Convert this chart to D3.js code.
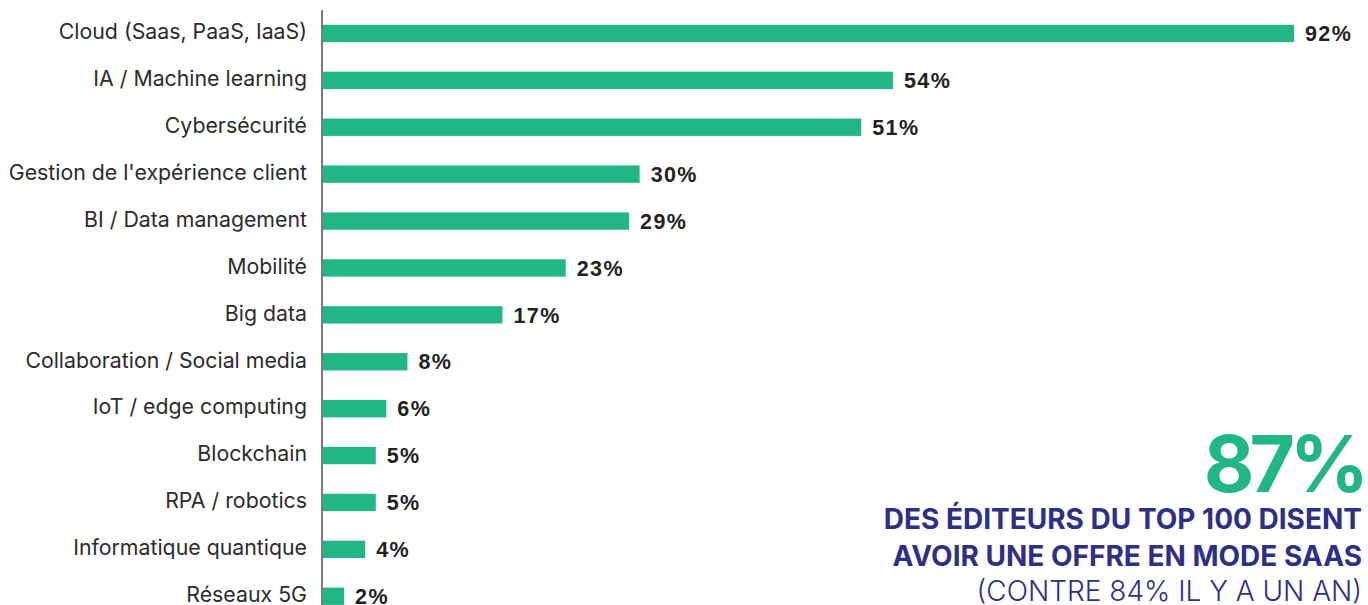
<!doctype html>
<html>
  <head>
    <script src="https://cdn.jsdelivr.net/npm/d3@7"></script>
    <style>
      body { margin: 0; background: #fff; }
    </style>
  </head>
  <body>
    <script>
    // chart data
    var categories = ["Cloud (Saas, PaaS, IaaS)", "IA / Machine learning", "Cybersécurité",
      "Gestion de l'expérience client", "BI / Data management", "Mobilité", "Big data",
      "Collaboration / Social media", "IoT / edge computing", "Blockchain", "RPA / robotics",
      "Informatique quantique", "Réseaux 5G"];
    var values = [92, 54, 51, 30, 29, 23, 17, 8, 6, 5, 5, 4, 2];
    var calloutLines = ["DES ÉDITEURS DU TOP 100 DISENT", "AVOIR UNE OFFRE EN MODE SAAS"];
    var calloutNote = "(CONTRE 84% IL Y A UN AN)";
    var calloutValue = "87%";

    var width = 1368;
    var height = 605;
    var green = "#20b784";
    var navy = "#2e2f86";

    var svg = d3.select("body")
              .append("svg")
              .attr("width", width)
              .attr("height", height);

    var x0 = 323;

    var xScale = d3.scaleLinear()
                  .domain([0, 92])
                  .range([x0, 1294]);

    var yScale = d3.scaleBand()
                  .domain(categories)
                  .range([10, 10 + 46.9 * 13])
                  .paddingInner(0.63)
                  .paddingOuter(0.315);

    // axis line
    svg.append("line")
      .attr("x1", x0 - 1).attr("x2", x0 - 1)
      .attr("y1", 10).attr("y2", height)
      .attr("stroke", "#333")
      .attr("stroke-width", 1.3);

    // bars
    svg.selectAll("rect.bar")
      .data(values)
      .enter()
        .append("rect")
        .attr("class", "bar")
        .attr("x", x0)
        .attr("y", function(d, i) { return yScale(categories[i]); })
        .attr("width", function(d) { return xScale(d) - x0; })
        .attr("height", yScale.bandwidth())
        .attr("fill", green);

    // category labels
    svg.selectAll("text.cat")
      .data(categories)
      .enter()
        .append("text")
        .attr("class", "cat")
        .attr("x", 307)
        .attr("y", function(d) { return yScale(d) + yScale.bandwidth() / 2; })
        .attr("text-anchor", "end")
        .attr("dominant-baseline", "middle")
        .attr("font-family", "Inter, sans-serif")
        .style("font-size", "21.3px")
        .attr("fill", "#2b2b2b")
        .text(function(d) { return d; });

    // value labels
    svg.selectAll("text.val")
      .data(values)
      .enter()
        .append("text")
        .attr("class", "val")
        .attr("x", function(d) { return xScale(d) + 11; })
        .attr("y", function(d, i) { return yScale(categories[i]) + yScale.bandwidth() / 2 + 2; })
        .attr("dominant-baseline", "middle")
        .attr("font-family", "'Liberation Sans', Arial, sans-serif")
        .attr("font-weight", "bold")
        .style("font-size", "21.5px")
        .style("letter-spacing", "1.4px")
        .attr("fill", "#222")
        .text(function(d) { return d + "%"; });

    // callout
    svg.append("text")
      .attr("x", 1364)
      .attr("y", 492)
      .attr("text-anchor", "end")
      .attr("font-family", "Inter, sans-serif")
      .attr("font-weight", "bold")
      .style("font-size", "78px")
      .style("letter-spacing", "-5px")
      .attr("fill", green)
      .text(calloutValue);

    calloutLines.forEach(function(t, i) {
      svg.append("text")
        .attr("x", 1362)
        .attr("y", 529 + i * 36.5)
        .attr("text-anchor", "end")
        .attr("font-family", "Inter, sans-serif")
        .attr("font-weight", "bold")
        .style("font-size", "28px")
        .attr("fill", navy)
        .text(t);
    });

    svg.append("text")
      .attr("x", 1362)
      .attr("y", 601)
      .attr("text-anchor", "end")
      .attr("font-family", "Inter, sans-serif")
      .attr("font-weight", 300)
      .style("font-size", "28px")
      .attr("fill", navy)
      .text(calloutNote);
    </script>
  </body>
</html>
